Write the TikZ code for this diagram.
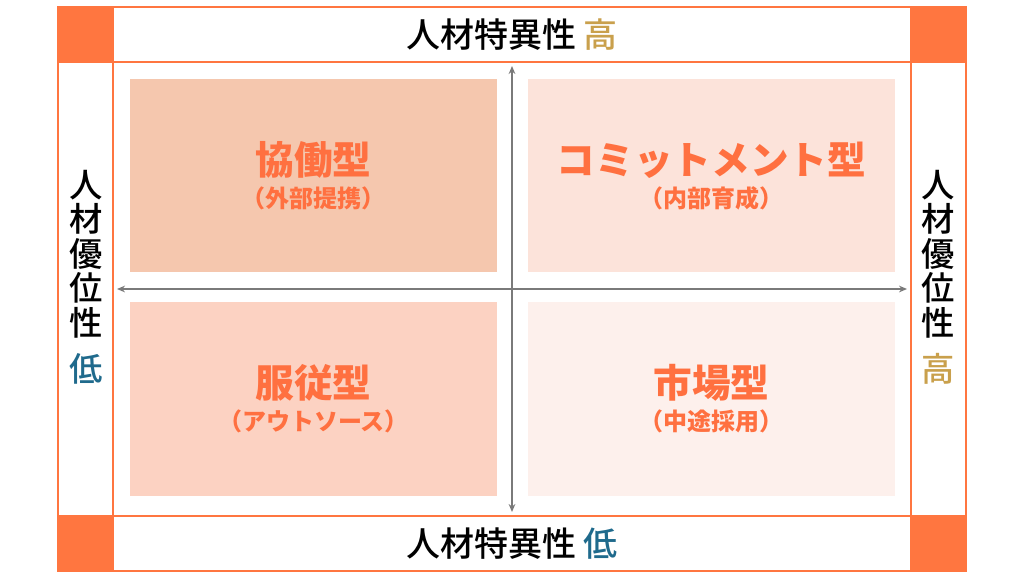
\documentclass[tikz,border=0pt]{standalone}
\usepackage{fontspec}
\usetikzlibrary{arrows.meta}
\newfontfamily\jp{Noto Sans CJK JP}
\newfontfamily\jpm{Noto Sans CJK JP Medium}
\definecolor{frameor}{HTML}{FF7640}
\definecolor{titleor}{HTML}{FF7040}
\definecolor{qtl}{HTML}{F5C7AE}
\definecolor{qtr}{HTML}{FCE3DA}
\definecolor{qbl}{HTML}{FCD2C2}
\definecolor{qbr}{HTML}{FDF0EC}
\definecolor{goldc}{HTML}{C9A04C}
\definecolor{bluec}{HTML}{1F6A8C}
\definecolor{axisg}{HTML}{7A7A7A}
\tikzset{
  frameline/.style={draw=frameor, line width=1.6pt},
  cornerbox/.style={fill=frameor, draw=none},
  quad/.style={draw=none, minimum width=275.25pt, minimum height=145pt, inner sep=0pt},
  qtitle/.style={text=titleor, font=\jp\bfseries\fontsize{29}{32}\selectfont, inner sep=0pt},
  qsub/.style={text=titleor, font=\jp\bfseries\fontsize{18}{20}\selectfont, inner sep=0pt},
  axislabel/.style={font=\jpm\fontsize{25.5}{28}\selectfont, inner sep=0pt},
  vlabel/.style={font=\jpm\fontsize{25}{25.8}\selectfont, align=center, inner sep=0pt},
  axisline/.style={draw=axisg, line width=1.6pt, {Stealth[length=6pt,width=5pt]}-{Stealth[length=6pt,width=5pt]}},
}
\begin{document}
\begin{tikzpicture}[x=0.75pt,y=-0.75pt]
\useasboundingbox (0,0) rectangle (1024,576);
% corners
\fill[cornerbox] (58,7) rectangle (113,62);
\fill[cornerbox] (911,7) rectangle (966,62);
\fill[cornerbox] (58,516) rectangle (113,571);
\fill[cornerbox] (911,516) rectangle (966,571);
% frame
\draw[frameline] (58,7) rectangle (966,571);
\draw[frameline] (58,62) -- (966,62);
\draw[frameline] (58,516) -- (966,516);
\draw[frameline] (113,7) -- (113,571);
\draw[frameline] (911,7) -- (911,571);
% quadrants
\node[quad, fill=qtl] (tl) at (313.5,175.5) {};
\node[quad, fill=qtr] (tr) at (711.5,175.5) {};
\node[quad, fill=qbl] (bl) at (313.5,399) {};
\node[quad, fill=qbr] (br) at (711.5,399) {};
% axes
\coordinate (vtop) at (512,66);
\coordinate (vbot) at (512,512);
\coordinate (hl) at (117,289);
\coordinate (hr) at (907,289);
\draw[axisline] (hl) -- (hr);
\draw[axisline] (vtop) -- (vbot);
% quadrant texts
\node[qtitle] (t1) at (313.5,160) {協働型};
\node[qsub] (s1) at (313.5,198) {（外部提携）};
\node[qtitle] (t2) at (711.5,160) {コミットメント型};
\node[qsub] (s2) at (711.5,198) {（内部育成）};
\node[qtitle] (t3) at (313.5,383) {服従型};
\node[qsub] (s3) at (313.5,421) {（アウトソース）};
\node[qtitle] (t4) at (711.5,383) {市場型};
\node[qsub] (s4) at (711.5,421) {（中途採用）};
% axis labels
\node[axislabel] (top) at (512,35) {人材特異性 \textcolor{goldc}{高}};
\node[axislabel] (bot) at (512,544) {人材特異性 \textcolor{bluec}{低}};
\node[vlabel, anchor=north] (left) at (86,170) {人\\材\\優\\位\\性\\[9pt]\textcolor{bluec}{低}};
\node[vlabel, anchor=north] (right) at (938,170) {人\\材\\優\\位\\性\\[9pt]\textcolor{goldc}{高}};
\end{tikzpicture}
\end{document}
